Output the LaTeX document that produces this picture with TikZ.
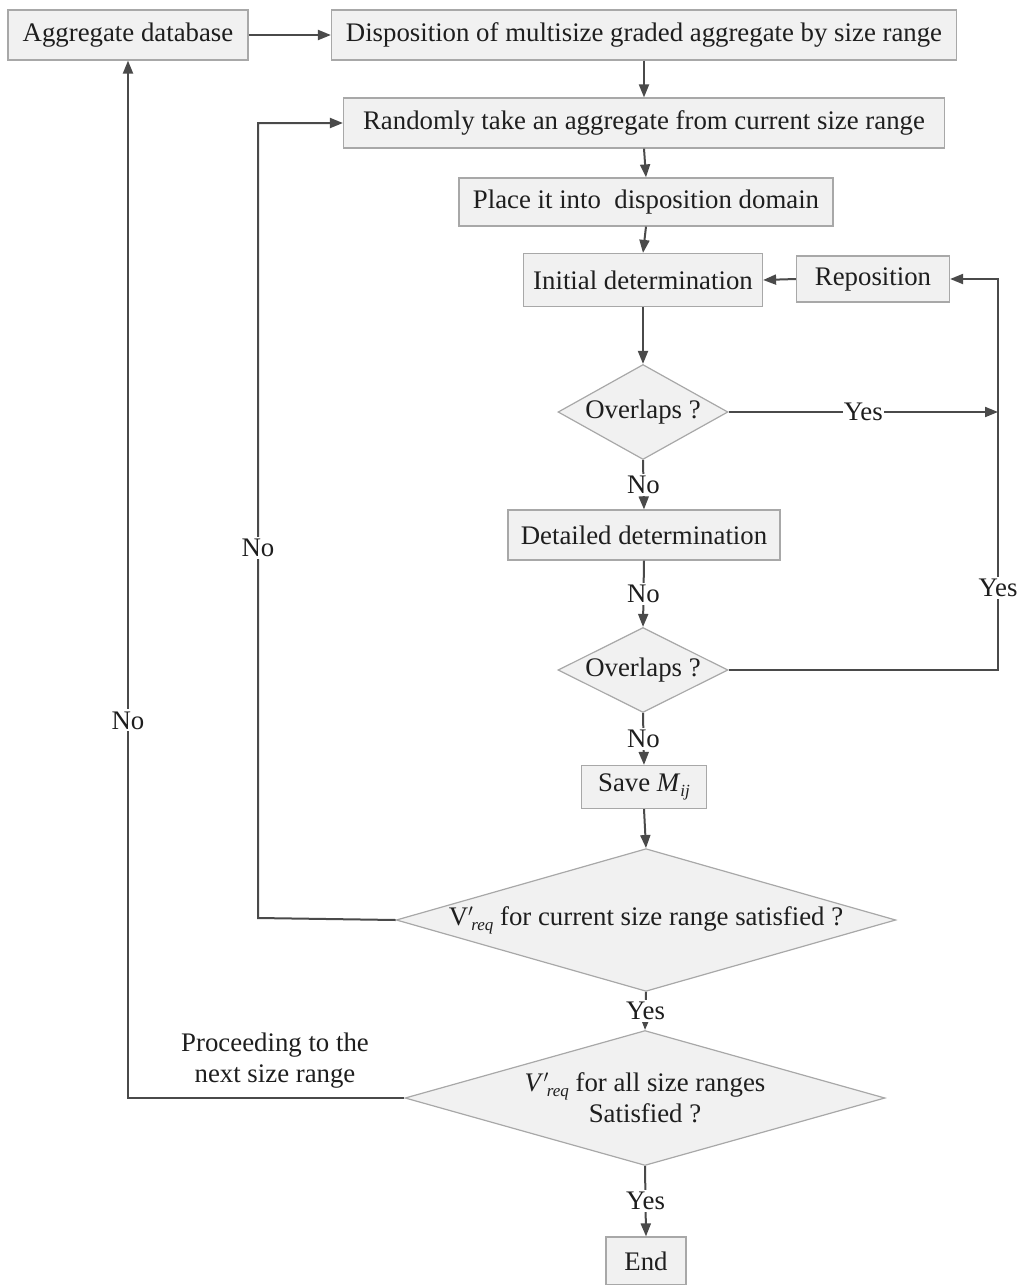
\documentclass[tikz,border=0pt]{standalone}
\usepackage{fontspec}
\setmainfont{Liberation Serif}
\usetikzlibrary{arrows.meta,shapes.geometric}

\definecolor{boxfill}{HTML}{F1F1F1}
\definecolor{boxline}{HTML}{A8A8A8}
\definecolor{linkline}{HTML}{4A4A4A}
\definecolor{textcol}{HTML}{1E1E1E}

% small italic subscript in the text font
\newcommand{\lowsub}[1]{\raisebox{-5pt}{\fontsize{17}{19}\selectfont\itshape #1}}

\begin{document}
\begin{tikzpicture}[
  x=1pt,
  y=-1pt,
  font=\fontsize{26.8}{31}\selectfont,
  text=textcol,
  line/.style={draw=linkline,line width=2pt},
  arrow/.style={line,-{Triangle[length=13pt,width=10pt]}},
  block/.style={draw=boxline,fill=boxfill,line width=1.2pt,align=center,inner sep=2pt},
  decision/.style={diamond,draw=boxline,fill=boxfill,line width=1.2pt,align=center,inner sep=1pt,aspect=2},
  lbl/.style={fill=white,inner sep=2pt}
]
\useasboundingbox (0,0) rectangle (1021,1285);

% Process blocks
\node[block,minimum width=240pt,minimum height=50pt] (aggdb) at (128,35) {Aggregate database};
\node[block,minimum width=625pt,minimum height=50pt] (dispo) at (644,35)
  {Disposition of multisize graded aggregate by size range};
\node[block,minimum width=601pt,minimum height=50pt] (takeagg) at (644,123)
  {Randomly take an aggregate from current size range};
\node[block,minimum width=374pt,minimum height=48pt] (place) at (646,202)
  {Place it into\ \ disposition domain};
\node[block,minimum width=239pt,minimum height=53pt] (initdet) at (643,280) {Initial determination};
\node[block,minimum width=153pt,minimum height=46pt] (repos) at (873,279) {Reposition};
\node[block,minimum width=272pt,minimum height=50pt] (detdet) at (644,535) {Detailed determination};
\node[block,minimum width=125pt,minimum height=43pt] (save) at (644,787)
  {Save \textit{M}\lowsub{ij}};
\node[block,minimum width=80pt,minimum height=48pt] (endbox) at (646,1261) {End};

% Decisions
\node[decision,minimum width=165pt,minimum height=95pt] (ovlA) at (643,412) {Overlaps ?};
\node[decision,minimum width=160pt,minimum height=84pt] (ovlB) at (643,670) {Overlaps ?};
\node[decision,minimum width=488pt,minimum height=140pt,aspect=3.5] (curok) at (646,920)
  {V$'$\kern-2pt\lowsub{req} for current size range satisfied ?};
\node[decision,minimum width=480pt,minimum height=135pt,aspect=3.5] (allok) at (645,1098)
  {\textit{V}$'$\kern-2pt\lowsub{req} for all size ranges\\Satisfied ?};

% Loop corners
\coordinate (yesA) at (998,412);
\coordinate (rtop) at (998,279);
\coordinate (rbot) at (998,670);
\coordinate (noA) at (258,918);
\coordinate (noB) at (128,1098);

% Main flow
\draw[arrow] (aggdb.east) -- (dispo.west);
\draw[arrow] (dispo.south) -- (takeagg.north);
\draw[arrow] (takeagg.south) -- (place.north);
\draw[arrow] (place.south) -- (initdet.north);
\draw[arrow] (initdet.south) -- (ovlA.north);
\draw[arrow] (repos.west) -- (initdet.east);
\draw[arrow] (ovlA.south) -- node[lbl] {No} (detdet.north);
\draw[arrow] (detdet.south) -- node[lbl] {No} (ovlB.north);
\draw[arrow] (ovlB.south) -- node[lbl] {No} (save.north);
\draw[arrow] (save.south) -- (curok.north);
\draw[arrow] (curok.south) -- node[lbl] {Yes} (allok.north);
\draw[arrow] (allok.south) -- node[lbl] {Yes} (endbox.north);

% Overlap loops back to reposition
\draw[arrow] (ovlA.east) -- node[lbl,inner xsep=1pt] {Yes} (yesA);
\draw[arrow] (ovlB.east) -- (rbot) -- node[lbl,pos=0.21] {Yes} (rtop) -- (repos.east);

% Size range loops
\draw[arrow] (curok.west) -- (noA) -- node[lbl,pos=0.465] {No} (noA |- takeagg.west) -- (takeagg.west);
\draw[arrow] (allok.west) -- (noB) -- node[lbl,pos=0.364] {No} (aggdb.south);
\node[align=center] (nextrange) at (275,1061) {Proceeding to the\\next size range};

\end{tikzpicture}
\end{document}
